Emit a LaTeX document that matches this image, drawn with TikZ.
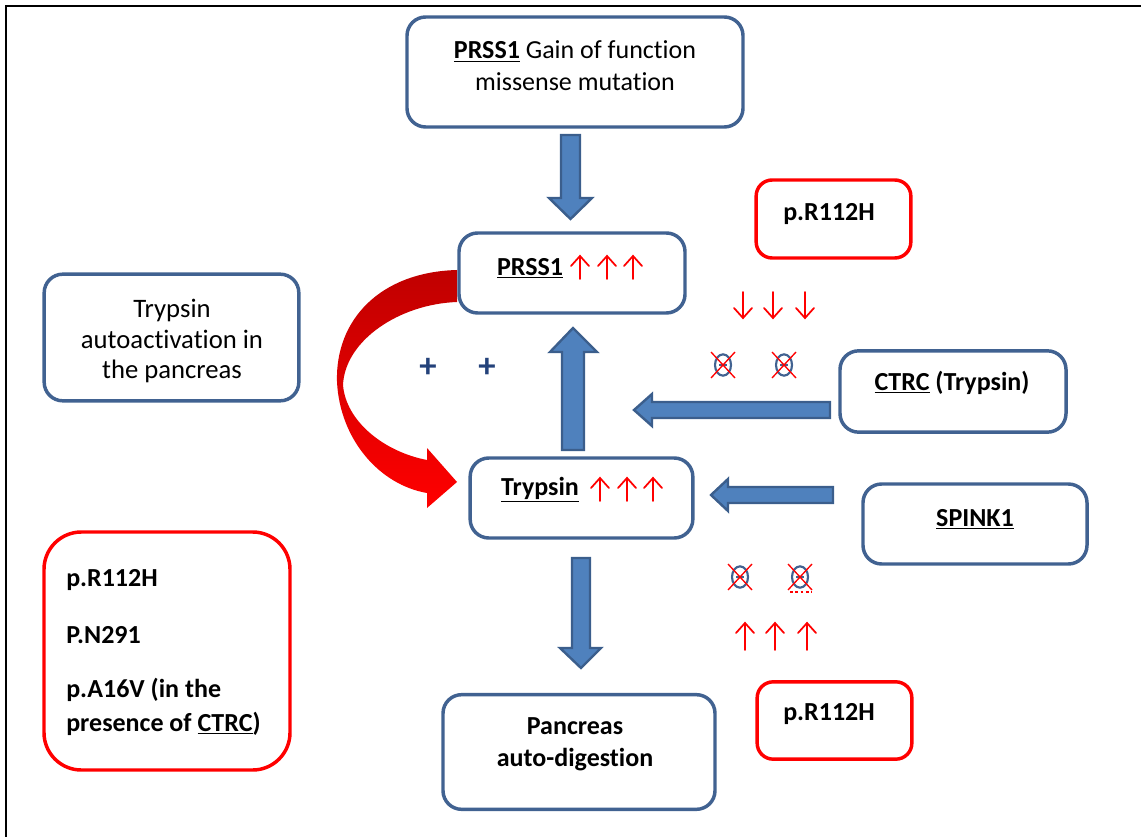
\documentclass[tikz,border=0pt]{standalone}
\usepackage{fontspec}
\setmainfont{Carlito}[Ligatures=NoCommon]
\definecolor{boxblue}{HTML}{416291}
\definecolor{arrfill}{HTML}{4F81BD}
\definecolor{arrdraw}{HTML}{3B5E8C}
\definecolor{plusblue}{HTML}{24427A}
\definecolor{darkred}{HTML}{C00000}
\newcommand\myup[3]{\draw[redarr] (#1,#3) -- (#1,#2); \draw[redarr] (#1-9,#2+10) -- (#1,#2) -- (#1+9,#2+10);}
\newcommand\mydown[3]{\draw[redarr] (#1,#2) -- (#1,#3); \draw[redarr] (#1-9,#3-10) -- (#1,#3) -- (#1+9,#3-10);}
\newcommand\xcirc[2]{%
  \draw[boxblue, line width=1.6pt] (#1,#2) ellipse [x radius=6pt, y radius=8pt];
  \draw[boxblue, line width=0.9pt] (#1-4,#2) -- (#1+4,#2);
  \draw[red, line width=1pt] (#1-12,#2-13) -- (#1+12,#2+13) (#1-12,#2+13) -- (#1+12,#2-13);}
\begin{document}
\begin{tikzpicture}[x=0.75pt,y=-0.75pt,
  bluebox/.style={draw=boxblue, line width=2.6pt, rounded corners=14pt, fill=white, inner sep=0pt},
  redbox/.style={draw=red, line width=2.6pt, rounded corners=12pt, fill=white, inner sep=0pt},
  blockarrow/.style={fill=arrfill, draw=arrdraw, line width=1.8pt, line join=miter},
  lbl/.style={font=\fontsize{19.5}{24}\selectfont, align=center, inner sep=0pt},
  redarr/.style={draw=red, line width=1.3pt, line cap=round, line join=miter}]
\useasboundingbox (0,0) rectangle (1141,837);
\draw[line width=2.2pt] (6,837) -- (6,6) -- (1141,6);

% curved red arrow
\shade[top color=darkred, bottom color=red, middle color=darkred!50!red]
  (457,270) .. controls (380,272) and (335,320) .. (337,382)
  .. controls (340,440) and (380,485) .. (427,493) -- (427,508) -- (457,482)
  -- (427,448) -- (427,460) .. controls (385,452) and (346,422) .. (343,385)
  .. controls (345,340) and (400,304) .. (457,302) -- cycle;

% boxes
\node[bluebox, minimum width=252pt, minimum height=82.5pt] (top) at (575,72) {};
\node[bluebox, minimum width=169.5pt, minimum height=60pt] (prss) at (572,273) {};
\node[bluebox, minimum width=167pt, minimum height=60pt] (tryp) at (581.5,498) {};
\node[bluebox, minimum width=204pt, minimum height=86pt] (panc) at (579,752) {};
\node[bluebox, minimum width=191pt, minimum height=95pt] (auto) at (171.5,337.5) {};
\node[bluebox, minimum width=169.5pt, minimum height=61pt] (ctrc) at (953,391.5) {};
\node[bluebox, minimum width=168pt, minimum height=60pt] (spink) at (975,524) {};
\node[redbox, minimum width=116pt, minimum height=58.5pt] (rtop) at (833.5,219) {};
\node[redbox, minimum width=116pt, minimum height=58pt] (rbot) at (834.5,720.5) {};
\node[redbox, rounded corners=28pt, minimum width=184.5pt, minimum height=178.5pt] (rbig) at (167,651) {};

% texts
\node[lbl] (ttop) at (575,66) {\textbf{\underline{PRSS1}} Gain of function\\missense mutation};
\node[lbl] (tprss) at (530,268) {\textbf{\underline{PRSS1}}};
\node[lbl] (ttryp) at (540,490) {\textbf{\underline{Trypsin}}};
\node[lbl, font=\fontsize{19.5}{24}\selectfont\bfseries] (tpanc) at (575,744) {Pancreas\\auto-digestion};
\node[lbl, font=\fontsize{20}{23}\selectfont] (tauto) at (172,341) {Trypsin\\autoactivation in\\the pancreas};
\node[lbl] (tctrc) at (952,383) {\textbf{\underline{CTRC} (Trypsin)}};
\node[lbl] (tspink) at (975,519) {\textbf{\underline{SPINK1}}};
\node[lbl] (trtop) at (829,214) {\textbf{p.R112H}};
\node[lbl] (trbot) at (829,714) {\textbf{p.R112H}};
\node[lbl, anchor=west] (tb1) at (66,580) {\textbf{p.R112H}};
\node[lbl, anchor=west] (tb2) at (66,635) {\textbf{P.N291}};
\node[lbl, anchor=west, align=left, font=\fontsize{19.5}{25.5}\selectfont\bfseries] (tb3) at (66,707) {p.A16V (in the\\presence of \underline{CTRC})};

% plus signs
\node[lbl, text=plusblue, font=\fontsize{26}{26}\selectfont\bfseries] (p1) at (428,368) {+};
\node[lbl, text=plusblue, font=\fontsize{26}{26}\selectfont\bfseries] (p2) at (487,368) {+};

% block arrows
\draw[blockarrow] (561,135)--(580,135)--(580,198)--(592,198)--(570.5,219)--(549,198)--(561,198)--cycle;
\draw[blockarrow] (562,450)--(584,450)--(584,352)--(597,352)--(573,328)--(550,352)--(562,352)--cycle;
\draw[blockarrow] (572,558)--(590,558)--(590,648)--(601,648)--(581,668)--(560,648)--(572,648)--cycle;
\draw[blockarrow] (830,402)--(830,418)--(652,418)--(652,426)--(634,410)--(652,394)--(652,402)--cycle;
\draw[blockarrow] (833,487)--(833,503)--(728,503)--(728,511)--(711,495)--(728,479)--(728,487)--cycle;

% small red arrows
\myup{580}{256}{279}\myup{607}{256}{279}\myup{633}{256}{279}
\myup{600}{478}{501}\myup{627}{478}{501}\myup{653}{478}{501}
\mydown{743}{292}{318}\mydown{773}{292}{318}\mydown{805}{292}{318}
\myup{745}{623}{650}\myup{775}{623}{650}\myup{807}{623}{650}

% crossed circles
\xcirc{723}{365}\xcirc{784}{365}
\xcirc{740}{577}\xcirc{800}{577}
\draw[red, line width=0.8pt, dash pattern=on 2pt off 2pt] (790,592) -- (812,592);
\end{tikzpicture}
\end{document}
